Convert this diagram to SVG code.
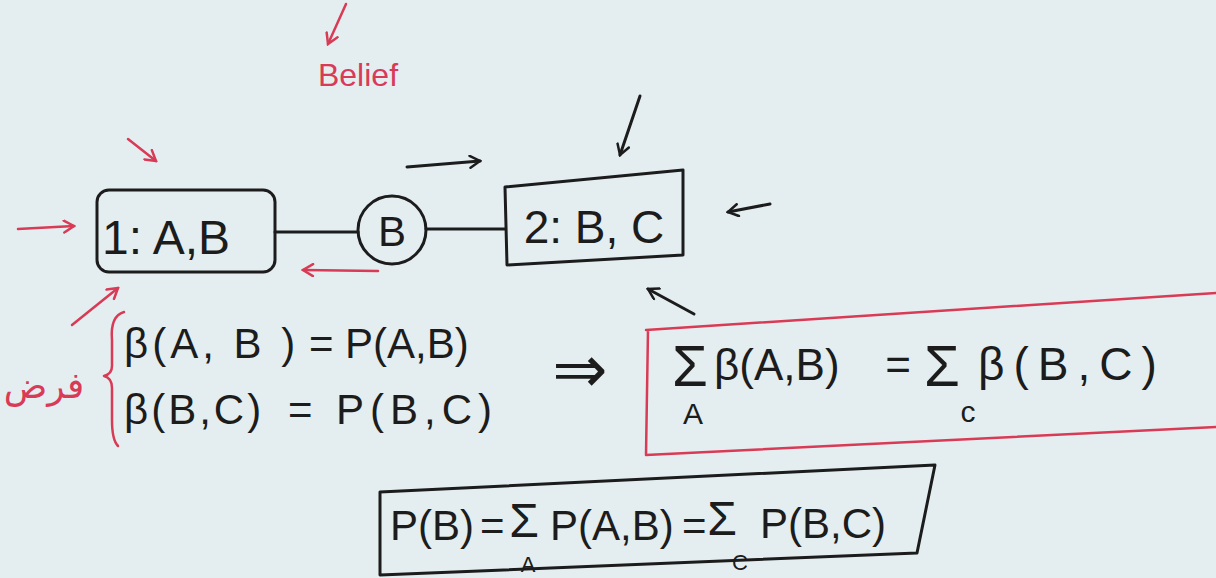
<svg xmlns="http://www.w3.org/2000/svg" width="1216" height="578" viewBox="0 0 1216 578">
<defs>
<style>
.ink{fill:none;stroke:#1c1c1c;stroke-width:3;stroke-linecap:round;stroke-linejoin:round}
.red{fill:none;stroke:#d93a55;stroke-width:2.5;stroke-linecap:round;stroke-linejoin:round}
.t{font-family:"Liberation Sans","DejaVu Sans",sans-serif;fill:#1c1c1c}
.tr{font-family:"Liberation Sans","DejaVu Sans","Noto Sans",sans-serif;fill:#d93a55}
</style>
<marker id="ab" viewBox="0 0 14 14" refX="12" refY="7" markerWidth="14" markerHeight="14" markerUnits="userSpaceOnUse" orient="auto">
<path d="M2,1 L12,7 L2,13" fill="none" stroke="#1c1c1c" stroke-width="2.5" stroke-linecap="round"/>
</marker>
<marker id="ar" viewBox="0 0 14 14" refX="12" refY="7" markerWidth="14" markerHeight="14" markerUnits="userSpaceOnUse" orient="auto">
<path d="M2,1 L12,7 L2,13" fill="none" stroke="#d93a55" stroke-width="2.5" stroke-linecap="round"/>
</marker>
</defs>
<rect width="1216" height="578" fill="#e4eef0"/>

<g id="belief">
<text class="tr" x="358" y="86" font-size="32" text-anchor="middle">Belief</text>
</g>

<g id="node1">
<rect class="ink" x="97" y="190" width="178" height="82" rx="12"/>
<text class="t" x="102" y="254" font-size="48">1: A,B</text>
</g>

<g id="nodeB">
<circle class="ink" cx="392" cy="230" r="34"/>
<text class="t" x="392" y="246" font-size="42" text-anchor="middle">B</text>
</g>

<g id="node2">
<path class="ink" d="M505,187 L683,170 L683,255 L507,265 Z"/>
<text class="t" x="594" y="243" font-size="46" text-anchor="middle">2: B, C</text>
</g>

<g id="connectors">
<line class="ink" x1="275" y1="232" x2="358" y2="232"/>
<line class="ink" x1="426" y1="229" x2="505" y2="229"/>
<line class="ink" x1="407" y1="167" x2="480" y2="161" marker-end="url(#ab)"/>
<line class="red" x1="378" y1="271" x2="303" y2="270" marker-end="url(#ar)"/>
<line class="ink" x1="640" y1="96" x2="620" y2="155" marker-end="url(#ab)"/>
<line class="ink" x1="770" y1="204" x2="728" y2="212" marker-end="url(#ab)"/>
<line class="ink" x1="694" y1="314" x2="648" y2="289" marker-end="url(#ab)"/>
<line class="red" x1="128" y1="139" x2="156" y2="161" marker-end="url(#ar)"/>
<line class="red" x1="18" y1="229" x2="74" y2="226" marker-end="url(#ar)"/>
<line class="red" x1="72" y1="325" x2="118" y2="288" marker-end="url(#ar)"/>
<line class="red" x1="346" y1="4" x2="328" y2="44" marker-end="url(#ar)"/>
</g>

<g id="assumption">
<text class="tr" x="44" y="398" font-size="36" text-anchor="middle" font-family="'Noto Sans','DejaVu Sans',sans-serif">فرض</text>
<path class="red" d="M124,312 Q110,316 112,340 L112,366 Q112,374 104,376 Q112,378 112,388 L112,420 Q112,440 118,446"/>
<text class="t" x="124" y="358" font-size="42" letter-spacing="4">β(A, B )</text>
<text class="t" x="309" y="358" font-size="42">=</text>
<text class="t" x="345" y="358" font-size="42">P(A,B)</text>
<text class="t" x="124" y="424" font-size="42" letter-spacing="3">β(B,C)</text>
<text class="t" x="288" y="424" font-size="42">=</text>
<text class="t" x="336" y="424" font-size="42" letter-spacing="6">P(B,C)</text>
<text class="t" x="580" y="392" font-size="66" text-anchor="middle">⇒</text>
</g>

<g id="result-box">
<path class="red" d="M646,330 L1216,293 M648,330 L646,455 M646,455 L1216,427"/>
<text class="t" x="690" y="386" font-size="58" text-anchor="middle">Σ</text>
<text class="t" x="693" y="424" font-size="30" text-anchor="middle">A</text>
<text class="t" x="714" y="380" font-size="44">β(A,B)</text>
<text class="t" x="898" y="380" font-size="44" text-anchor="middle">=</text>
<text class="t" x="942" y="386" font-size="58" text-anchor="middle">Σ</text>
<text class="t" x="968" y="422" font-size="30" text-anchor="middle">c</text>
<text class="t" x="978" y="380" font-size="46" letter-spacing="9">β(B,C)</text>
</g>

<g id="marginal-box">
<path class="ink" d="M380,492 L935,465 L917,553 L380,575 Z"/>
<text class="t" x="390" y="540" font-size="42">P(B)</text>
<text class="t" x="480" y="540" font-size="42">=</text>
<text class="t" x="524" y="537" font-size="48" text-anchor="middle">Σ</text>
<text class="t" x="528" y="572" font-size="22" text-anchor="middle">A</text>
<text class="t" x="550" y="540" font-size="42">P(A,B)</text>
<text class="t" x="682" y="540" font-size="42">=</text>
<text class="t" x="722" y="535" font-size="48" text-anchor="middle">Σ</text>
<text class="t" x="740" y="570" font-size="22" text-anchor="middle">C</text>
<text class="t" x="760" y="538" font-size="42">P(B,C)</text>
</g>
</svg>
